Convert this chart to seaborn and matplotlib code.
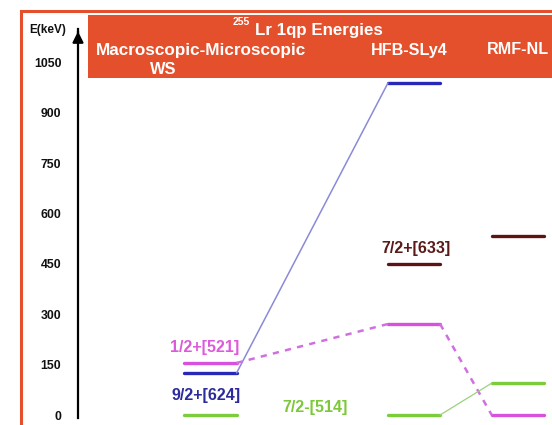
import numpy as np
import pandas as pd
import matplotlib
matplotlib.use("Agg")
import matplotlib.pyplot as plt
from matplotlib.patches import Rectangle
import seaborn as sns

# ---- data -------------------------------------------------------------
methods = ["Macroscopic-Microscopic", "HFB-SLy4", "RMF-NL"]
orbitals = ["1/2+[521]", "9/2+[624]", "7/2-[514]", "7/2+[633]"]
ws_energy = [155, 125, 0, np.nan]      # keV
hfb_energy = [271, 988, 0, 449]        # keV
rmf_energy = [0, np.nan, 95, 533]      # keV
y_ticks = [0, 150, 300, 450, 600, 750, 900, 1050]

# ---- style ------------------------------------------------------------
sns.set_style("white")
plt.rcParams["font.family"] = ["Liberation Sans", "DejaVu Sans"]
plt.rcParams["font.weight"] = "bold"

W, H = 552, 425
col_pos = [0.0, 1.0, 1.51]
half_w = 0.128
level_colors = {"1/2+[521]": "#d850e0", "9/2+[624]": "#2828b8",
                "7/2-[514]": "#7ccd3c", "7/2+[633]": "#5a1414"}
label_colors = {"1/2+[521]": "#dc5adc", "9/2+[624]": "#2b2b9c",
                "7/2-[514]": "#7cc83a", "7/2+[633]": "#5a1a1a"}
orange = "#e4502c"

fig = plt.figure(figsize=(W / 100, H / 100), dpi=100)


def fx(px):
    return px / W


def fy(py):
    return 1 - py / H


# outer frame and header band
fig.patches.append(Rectangle((fx(21), fy(440)), fx(560) - fx(21), fy(11) - fy(440),
                             transform=fig.transFigure, fill=False,
                             edgecolor=orange, lw=2.2, zorder=0))
fig.patches.append(Rectangle((fx(88), fy(78)), 1 - fx(88), fy(15) - fy(78),
                             transform=fig.transFigure, facecolor=orange,
                             edgecolor="none", zorder=0))

ax = fig.add_axes([fx(78), fy(418.4), 1 - fx(78), fy(28.6) - fy(418.4)])
ax.set_facecolor("none")
ax.set_xlim(-0.6511, 1.6781)
ax.set_ylim(-10, 1150)

# ---- energy levels ----------------------------------------------------
rows = []
for ci, vals in enumerate([ws_energy, hfb_energy, rmf_energy]):
    for orb, e in zip(orbitals, vals):
        if np.isnan(e):
            continue
        seg = f"{orb}@{ci}"
        rows.append({"seg": seg, "orbital": orb, "x": col_pos[ci] - half_w, "E": e})
        rows.append({"seg": seg, "orbital": orb, "x": col_pos[ci] + half_w, "E": e})
levels = pd.DataFrame(rows)
sns.lineplot(data=levels, x="x", y="E", hue="orbital", units="seg",
             estimator=None, sort=False, palette=level_colors, lw=2.4,
             legend=False, ax=ax)

# ---- connectors between methods ----------------------------------------
energy_table = {orb: [w, h, r] for orb, w, h, r in
                zip(orbitals, ws_energy, hfb_energy, rmf_energy)}
links = [("9/2+[624]", 0, 1), ("1/2+[521]", 0, 1),
         ("1/2+[521]", 1, 2), ("7/2-[514]", 1, 2)]
link_style = {"9/2+[624]": dict(color="#8a8ad8", lw=1.1, ls="-"),
              "1/2+[521]": dict(color="#d070e0", lw=1.8, ls=(0, (2.5, 2.5))),
              "7/2-[514]": dict(color="#9ad27c", lw=0.9, ls="-")}
for orb, a, b in links:
    link = pd.DataFrame({"x": [col_pos[a] + half_w, col_pos[b] - half_w],
                         "E": [energy_table[orb][a], energy_table[orb][b]]})
    st = link_style[orb]
    sns.lineplot(data=link, x="x", y="E", sort=False, ax=ax, color=st["color"],
                 lw=st["lw"], linestyle=st["ls"], legend=False)

# ---- orbital labels ----------------------------------------------------
label_pos = {"1/2+[521]": (-0.03, 202), "9/2+[624]": (-0.02, 59),
             "7/2-[514]": (0.512, 21), "7/2+[633]": (1.01, 497)}
for orb in orbitals:
    x, y = label_pos[orb]
    ax.text(x, y, orb, color=label_colors[orb], fontsize=11.5,
            fontweight="bold", ha="center", va="center")

# ---- axis --------------------------------------------------------------
for side in ["top", "right", "bottom"]:
    ax.spines[side].set_visible(False)
ax.spines["left"].set_color("black")
ax.spines["left"].set_linewidth(1.6)
ax.annotate("", xy=(0, 1.0), xycoords="axes fraction", xytext=(0, 0.985),
            arrowprops=dict(arrowstyle="-|>", color="black", lw=1.6,
                            mutation_scale=16))
ax.set_xticks([])
ax.set_yticks(y_ticks)
ax.set_yticklabels([str(t) for t in y_ticks], fontsize=8.8, fontweight="bold")
ax.tick_params(axis="y", length=0, pad=12, colors="#111111")
ax.set_xlabel("")
ax.set_ylabel("")

fig.text(fx(48), fy(30), "E(keV)", fontsize=8.5, fontweight="bold",
         ha="center", va="center", color="#111111")

# ---- header text ---------------------------------------------------------
fig.text(fx(241), fy(22), "255", fontsize=7.5, fontweight="bold",
         color="white", ha="center", va="center")
fig.text(fx(255), fy(31), "Lr 1qp Energies", fontsize=12.2, fontweight="bold",
         color="white", ha="left", va="center")
fig.text(fx(201), fy(50), methods[0], fontsize=12.3, fontweight="bold",
         color="white", ha="center", va="center")
fig.text(fx(163), fy(69), "WS", fontsize=11.8, fontweight="bold",
         color="white", ha="center", va="center")
fig.text(fx(409), fy(50), methods[1], fontsize=11.6, fontweight="bold",
         color="white", ha="center", va="center")
fig.text(fx(487), fy(50), methods[2], fontsize=11.6, fontweight="bold",
         color="white", ha="left", va="center")

fig.savefig("out.png", dpi=100)
